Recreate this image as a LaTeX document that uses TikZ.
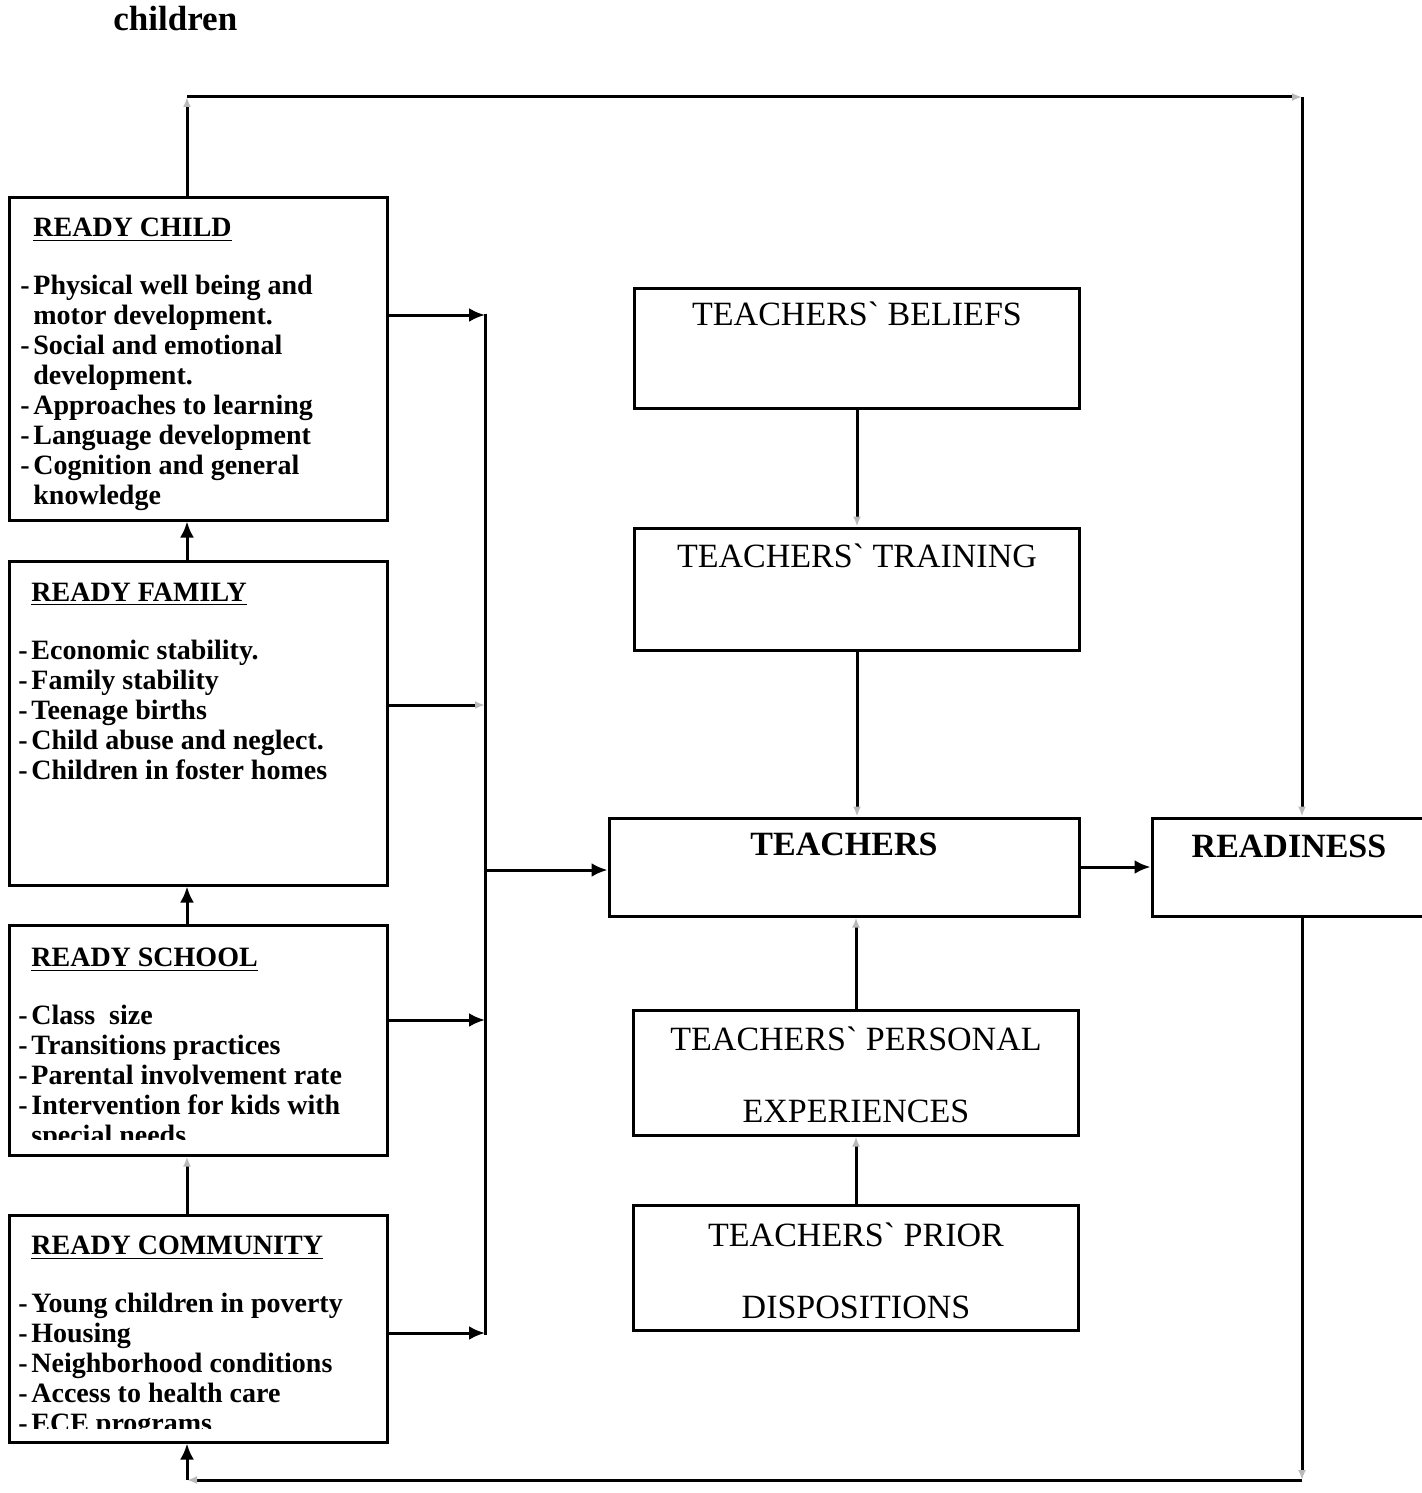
\documentclass[tikz,border=0pt]{standalone}
\usepackage{fontspec}
\setmainfont{Liberation Serif}
\usetikzlibrary{positioning, arrows.meta}
\tikzset{%
  lbox/.style={draw, line width=1.5pt, inner sep=0pt, minimum width=189pt}, % left column boxes
  tbox/.style={draw, line width=1.5pt, inner sep=0pt, minimum width=222.5pt, minimum height=61pt},
  ltext/.style={anchor=north west, align=left, inner sep=0pt, font=\bfseries\fontsize{14}{15}\selectfont},
  ttext/.style={anchor=base, align=center, inner sep=0pt, font=\fontsize{17}{36}\selectfont},
  arr/.style={line width=1.5pt, -{Latex[length=8pt,width=7pt]}},
  faint/.style={line width=1.5pt, -{Latex[length=5pt,width=4pt,gray!55]}}
}
\newcommand{\itm}{\makebox[6.5pt][l]{-}}
\newcommand{\cnt}{\hspace*{6.5pt}}
\newcommand{\gr}{\textasciigrave}

\begin{document}
\begin{tikzpicture}[x=0.5pt, y=-0.5pt]
\useasboundingbox (0,0) rectangle (1422,1493);

\node[font=\bfseries\fontsize{17.5}{20}\selectfont, anchor=base west, inner sep=0pt] (title) at (113,31) {children};

% left column
\node[lbox, minimum height=161.5pt] (child) at (198,358.5) {};
\node[lbox, minimum height=162pt] (family) at (198,723) {};
\node[lbox, minimum height=115pt] (school) at (198,1040) {};
\node[lbox, minimum height=113.5pt] (community) at (198,1328.5) {};

\node[ltext] (childtxt) at (20,218) {\cnt\underline{READY CHILD}\\[14pt]
\itm Physical well being and\\
\cnt motor development.\\
\itm Social and emotional\\
\cnt development.\\
\itm Approaches to learning\\
\itm Language development\\
\itm Cognition and general\\
\cnt knowledge};

\node[ltext] (familytxt) at (18,583) {\cnt\underline{READY FAMILY}\\[14pt]
\itm Economic stability.\\
\itm Family stability\\
\itm Teenage births\\
\itm Child abuse and neglect.\\
\itm Children in foster homes};

\begin{scope}
\clip (school.north west) rectangle ([yshift=8.5pt]school.south east);
\node[ltext] (schooltxt) at (18,948) {\cnt\underline{READY SCHOOL}\\[14pt]
\itm Class\ \ size\\
\itm Transitions practices\\
\itm Parental involvement rate\\
\itm Intervention for kids with\\
\cnt special needs};
\end{scope}

\begin{scope}
\clip (community.north west) rectangle ([yshift=7.5pt]community.south east);
\node[ltext] (communitytxt) at (18,1236) {\cnt\underline{READY COMMUNITY}\\[14pt]
\itm Young children in poverty\\
\itm Housing\\
\itm Neighborhood conditions\\
\itm Access to health care\\
\itm ECE programs};
\end{scope}

% teachers column
\node[tbox, minimum height=60pt] (beliefs) at (857,348) {};
\node[tbox] (training) at (857,589) {};
\node[tbox, minimum width=235pt, minimum height=49pt] (teachers) at (844,867) {};
\node[tbox, minimum height=62.5pt] (personal) at (856,1072.5) {};
\node[tbox, minimum height=62.5pt] (prior) at (856,1267.5) {};
\node[tbox, minimum width=150pt, minimum height=49pt] (readiness) at (1302,867) {};

\node[ttext] (beliefstxt) at ([yshift=-19.5pt]beliefs.north) {TEACHERS\gr{} BELIEFS};
\node[ttext] (trainingtxt) at ([yshift=-20.5pt]training.north) {TEACHERS\gr{} TRAINING};
\node[ttext, font=\bfseries\fontsize{17}{36}\selectfont] (teacherstxt) at ([yshift=-19.5pt]teachers.north) {TEACHERS};
\node[ttext, anchor=north] (personaltxt) at ([yshift=-9pt]personal.north) {TEACHERS\gr{} PERSONAL\\EXPERIENCES};
\node[ttext, anchor=north] (priortxt) at ([yshift=-9.5pt]prior.north) {TEACHERS\gr{} PRIOR\\DISPOSITIONS};
\node[ttext, font=\bfseries\fontsize{17}{36}\selectfont] (readinesstxt) at ([yshift=-20.5pt, xshift=-6.5pt]readiness.north) {READINESS};

% connectors
\coordinate (lx) at (187,0);
\coordinate (bus1) at (485,315);
\coordinate (bus2) at (485,705);
\coordinate (bus3) at (485,1020);
\coordinate (bus4) at (485,1333);
\coordinate (bus0) at (485,870);
\coordinate (tl) at (187,97);
\coordinate (tr) at (1302,97);
\coordinate (br) at (1302,1480);
\coordinate (bl) at (187,1480);

\draw[arr] (family.north -| lx) -- (child.south -| lx);
\draw[arr] (school.north -| lx) -- (family.south -| lx);
\draw[faint] (community.north -| lx) -- (school.south -| lx);

\draw[line width=1.5pt] ([yshift=0.75pt]bus1) -- ([yshift=-0.75pt]bus4);
\draw[arr] (child.east |- bus1) -- (bus1);
\draw[faint] (family.east |- bus2) -- (bus2);
\draw[arr] (school.east |- bus3) -- (bus3);
\draw[arr] (community.east |- bus4) -- (bus4);
\draw[arr] (bus0) -- (teachers.west |- bus0);
\draw[arr] (teachers.east) -- (readiness.west);

\draw[faint] (beliefs.south) -- (training.north);
\draw[faint] (training.south) -- (training.south |- teachers.north);
\draw[faint] (personal.north) -- (personal.north |- teachers.south);
\draw[faint] (prior.north) -- (personal.south);

\draw[faint] (child.north -| tl) -- (tl);
\draw[faint] (tl) -- (tr);
\draw[faint] (tr) -- (readiness.north);
\draw[faint] (readiness.south) -- (br);
\draw[faint] (br) -- (bl);
\draw[arr] (bl) -- (community.south -| bl);

\end{tikzpicture}
\end{document}
